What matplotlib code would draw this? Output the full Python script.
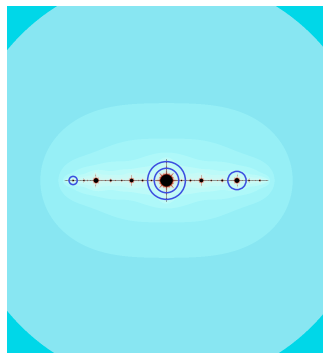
import numpy as np
import matplotlib.pyplot as plt
from matplotlib.colors import to_rgb
from matplotlib.patches import Circle

# filled Julia set of z -> z**2 + c, "airplane" parameter
c_param = complex(-1.7549, 0.0)
bailout = 3.87
max_iter = 120

# view window (complex plane) and sampling
px_per_unit = 53.2
x_min, y_min = -2.998, -3.242
n_px_x, n_px_y = 316, 347
supersample = 3

# palette anchors: escape count -> colour
band_iters = [0, 1, 2, 3, 4, 5, 6, 8, 10, 12, 14, 18, 26, 120]
band_colors = ['#00d8e8', '#88e6f2', '#96eff7', '#a2f5f9', '#aef9fa',
               '#bcfbf9', '#c6fbf7', '#d0f8f2', '#d4f2ec', '#e0c8bc',
               '#d87058', '#801808', '#200000', '#000000']

# superattracting 3-cycle {0, c, c^2 + c} with marker rings
ring_x = [0.0, 0.0, -1.7549, 1.3247]
ring_y = [0.0, 0.0, 0.0, 0.0]
ring_r = [0.23, 0.355, 0.077, 0.172]
ring_color = '#3b4ee0'

h = 1.0 / (px_per_unit * supersample)
ix0 = int(np.round(x_min / h))
iy0 = int(np.round(y_min / h))
xs = (ix0 + np.arange(n_px_x * supersample)) * h
ys = (iy0 + np.arange(n_px_y * supersample)) * h
X, Y = np.meshgrid(xs, ys)

z = (X + 1j * Y).ravel()
idx = np.arange(z.size)
counts = np.full(z.size, max_iter)
for n in range(max_iter):
    out = np.abs(z) > bailout
    counts[idx[out]] = n
    z = z[~out]
    idx = idx[~out]
    z = z * z + c_param

anchor_rgb = np.array([to_rgb(col) for col in band_colors])
levels = np.arange(max_iter + 1)
palette = np.stack([np.interp(levels, band_iters, anchor_rgb[:, ch]) for ch in range(3)], axis=1)

rgb = palette[counts].reshape(n_px_y * supersample, n_px_x * supersample, 3)
rgb = rgb.reshape(n_px_y, supersample, n_px_x, supersample, 3).mean(axis=(1, 3))

extent = (xs[0] - h / 2, xs[-1] + h / 2, ys[0] - h / 2, ys[-1] + h / 2)

fig = plt.figure(figsize=(3.23, 3.53), dpi=100)
ax = fig.add_axes([7 / 323, 0, 316 / 323, 347 / 353])
ax.imshow(rgb, extent=extent, origin='lower', interpolation='nearest')
for x, y, r in zip(ring_x, ring_y, ring_r):
    ax.add_patch(Circle((x, y), r, fill=False, ec=ring_color, lw=1.1))
ax.set_xlim(extent[0], extent[1])
ax.set_ylim(extent[2], extent[3])
ax.set_axis_off()
fig.savefig('out.png', dpi=100)
